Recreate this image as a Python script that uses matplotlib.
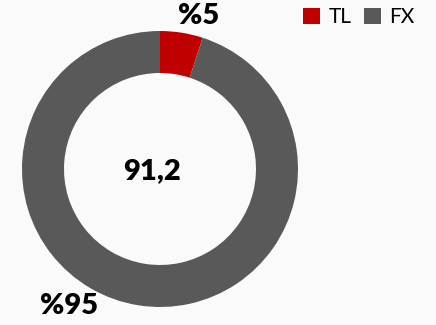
import matplotlib
matplotlib.use("Agg")
import matplotlib.pyplot as plt
from matplotlib.patches import Patch

categories = ["TL", "FX"]
shares = [5, 95]
colors = ["#C00000", "#595959"]
share_labels = ["%5", "%95"]
total_label = "91,2"

W, H = 436, 325
BG = "#FAFAFA"
plt.rcParams["font.family"] = ["Lato", "DejaVu Sans"]

fig = plt.figure(figsize=(W / 100, H / 100), dpi=100, facecolor=BG)
ax = fig.add_axes([0, 0, 1, 1])
ax.set_facecolor(BG)

cx, cy = 160, H - 169
ax.pie(shares, colors=colors, startangle=90, counterclock=False,
       center=(cx, cy), radius=138, frame=True,
       wedgeprops=dict(width=42, edgecolor="none"))
ax.set_xlim(0, W)
ax.set_ylim(0, H)
ax.set_aspect("equal")
ax.axis("off")

label_style = dict(ha="center", va="center", fontsize=21,
                   fontweight="heavy", color="black")
ax.text(199, H - 16, share_labels[0], **label_style)
ax.text(69, H - 306, share_labels[1], **label_style)
ax.text(152, H - 171, total_label, **label_style)

handles = [Patch(facecolor=c, edgecolor="none") for c in colors]
fig.legend(handles, categories, loc="upper right", bbox_to_anchor=(0.993, 1.035),
           ncol=2, frameon=False, fontsize=15, handlelength=0.8, handleheight=0.8,
           handletextpad=0.4, columnspacing=0.6, labelcolor="black")

fig.savefig("out.png", dpi=100, facecolor=BG)
